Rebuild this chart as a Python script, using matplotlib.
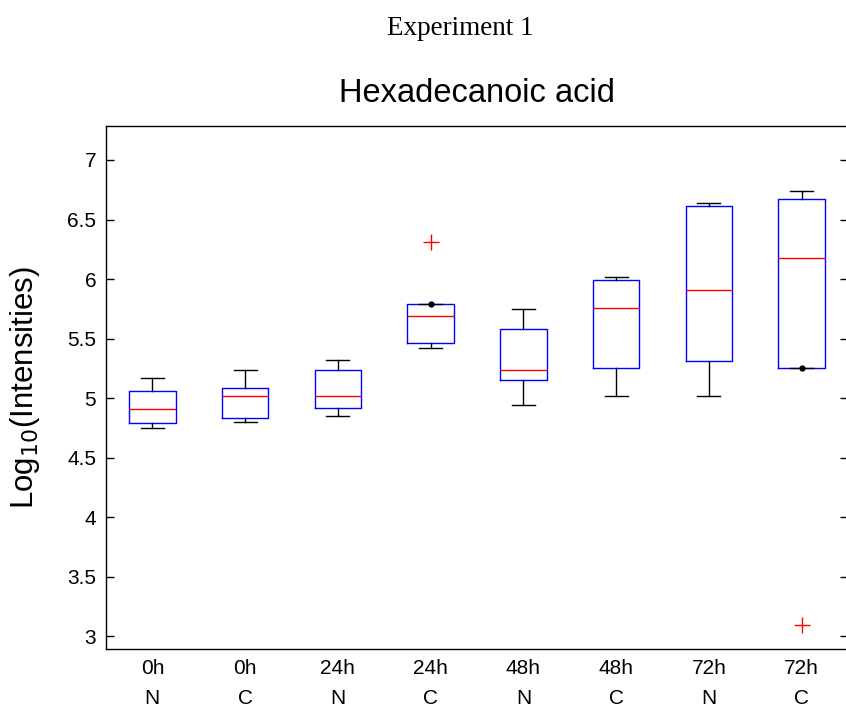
import matplotlib
matplotlib.use("Agg")
import matplotlib.pyplot as plt

# Data (log10 intensities)
groups = ["0h\nN", "0h\nC", "24h\nN", "24h\nC", "48h\nN", "48h\nC", "72h\nN", "72h\nC"]
whislo = [4.75, 4.80, 4.85, 5.42, 4.94, 5.02, 5.02, 5.25]
q1     = [4.79, 4.83, 4.92, 5.46, 5.15, 5.25, 5.31, 5.25]
med    = [4.91, 5.02, 5.02, 5.69, 5.24, 5.76, 5.91, 6.18]
q3     = [5.06, 5.09, 5.24, 5.79, 5.58, 5.99, 6.61, 6.67]
whishi = [5.17, 5.24, 5.32, 5.79, 5.75, 6.02, 6.64, 6.74]
fliers = [[], [], [], [6.31], [], [], [], [3.10]]
dot_groups = [4, 8]
dot_values = [5.79, 5.25]
yticks = [3, 3.5, 4, 4.5, 5, 5.5, 6, 6.5, 7]
ytick_labels = ["3", "3.5", "4", "4.5", "5", "5.5", "6", "6.5", "7"]

plt.rcParams['font.family'] = ['Liberation Sans', 'DejaVu Sans']

fig = plt.figure(figsize=(8.46, 7.09), dpi=100)
ax = fig.add_axes([106 / 846, 1 - 649 / 709, (848 - 106) / 846, (649 - 126) / 709])

stats = []
for i in range(len(groups)):
    stats.append(dict(whislo=whislo[i], q1=q1[i], med=med[i], q3=q3[i],
                      whishi=whishi[i], fliers=fliers[i], label=groups[i]))

ax.bxp(stats, positions=range(1, len(groups) + 1), widths=0.5,
       showfliers=True,
       boxprops=dict(color='blue', linewidth=1.0),
       medianprops=dict(color='red', linewidth=1.0),
       whiskerprops=dict(color='black', linewidth=1.0),
       capprops=dict(color='black', linewidth=1.0),
       capwidths=0.25,
       flierprops=dict(marker='+', markeredgecolor='red', markersize=11,
                       markeredgewidth=1.0, linestyle='none'))

ax.plot(dot_groups, dot_values, 'o', color='black', markersize=3.5, zorder=5)

ax.set_xlim(0.5, 8.5)
ax.set_ylim(2.895, 7.285)
ax.set_yticks(yticks)
ax.set_yticklabels(ytick_labels)
ax.set_xticks(range(1, len(groups) + 1))
ax.set_xticklabels(groups, linespacing=1.75)
ax.tick_params(axis='y', direction='in', length=6, width=1.0, labelsize=15,
               right=True, pad=7)
ax.tick_params(axis='x', length=0, labelsize=15, pad=7)
for s in ax.spines.values():
    s.set_linewidth(1.0)

ax.set_ylabel(r"Log$_{10}$(Intensities)", fontsize=22.5, va='center')
ax.yaxis.set_label_coords((25 - 106) / 742, 0.5)
ax.set_title("Hexadecanoic acid", fontsize=23.5, pad=17)
fig.text(460 / 846, 1 - 35 / 709, "Experiment 1", ha='center', va='baseline',
         fontsize=19.5, family=['Liberation Serif', 'DejaVu Serif'])

fig.savefig("out.png", dpi=100)
